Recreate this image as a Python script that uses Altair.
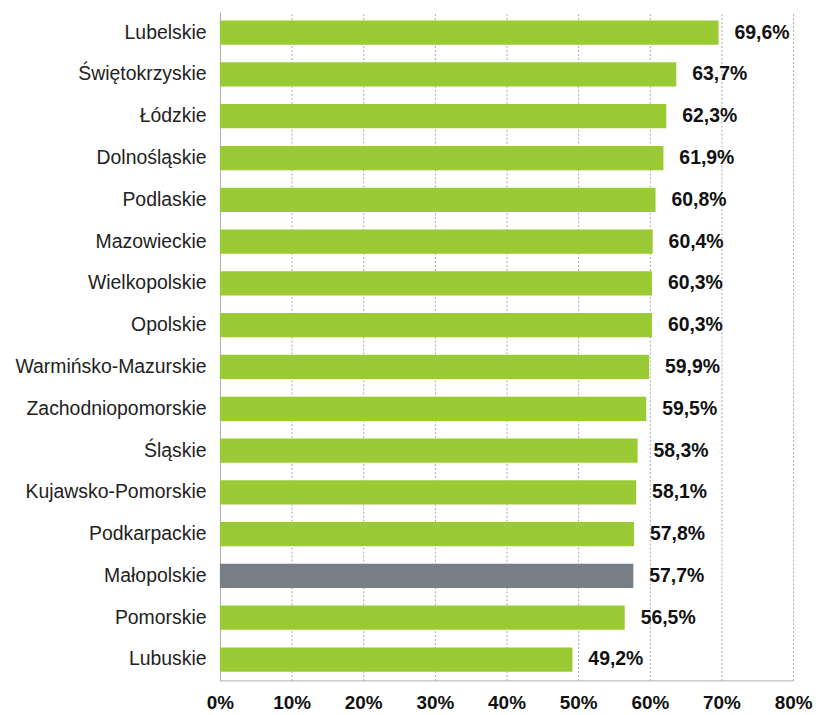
import altair as alt
import pandas as pd

regions = ["Lubelskie", "Świętokrzyskie", "Łódzkie", "Dolnośląskie", "Podlaskie",
           "Mazowieckie", "Wielkopolskie", "Opolskie", "Warmińsko-Mazurskie",
           "Zachodniopomorskie", "Śląskie", "Kujawsko-Pomorskie", "Podkarpackie",
           "Małopolskie", "Pomorskie", "Lubuskie"]
values = [69.6, 63.7, 62.3, 61.9, 60.8, 60.4, 60.3, 60.3, 59.9, 59.5, 58.3, 58.1,
          57.8, 57.7, 56.5, 49.2]
highlight = "Małopolskie"

df = pd.DataFrame({"region": regions, "value": values})
df["label"] = df["value"].map(lambda v: f"{v:.1f}".replace(".", ",") + "%")
df["hl"] = df["region"].map(lambda r: "hl" if r == highlight else "n")

FONT = "Liberation Sans"

y_enc = alt.Y("region:N", sort=regions, title=None,
              scale=alt.Scale(paddingInner=0.42, paddingOuter=0.21),
              axis=alt.Axis(ticks=False, domain=True, domainColor="#b0b0b0",
                            labelFont=FONT, labelFontSize=19.5, labelColor="#222222",
                            labelPadding=14, labelLimit=300))
x_enc = alt.X("value:Q", title=None,
              scale=alt.Scale(domain=[0, 80], nice=False),
              axis=alt.Axis(values=list(range(0, 81, 10)), format="d",
                            labelExpr="datum.value + '%'",
                            ticks=False, domain=True, domainColor="#b0b0b0",
                            grid=True, gridColor="#a8a8a8", gridDash=[2, 2],
                            gridWidth=1, labelFlush=False,
                            labelFont=FONT, labelFontSize=19, labelFontWeight="bold",
                            labelColor="#111111", labelPadding=13))

bars = alt.Chart(df).mark_bar().encode(
    y=y_enc, x=x_enc,
    color=alt.Color("hl:N", scale=alt.Scale(domain=["n", "hl"],
                                             range=["#9acb34", "#787f86"]),
                    legend=None),
)

text = alt.Chart(df).mark_text(align="left", baseline="middle", dx=16,
                               font=FONT, fontSize=19.5, fontWeight="bold",
                               color="#111111").encode(
    y=alt.Y("region:N", sort=regions),
    x=alt.X("value:Q"),
    text="label:N",
)

chart = (bars + text).properties(
    width=576, height=672,
    autosize=alt.AutoSizeParams(type="none"),
    padding={"left": 213, "top": 2, "right": 20, "bottom": 33},
).configure_view(stroke=None)

chart.save("out.html", embed_options={"renderer": "svg", "actions": False})
